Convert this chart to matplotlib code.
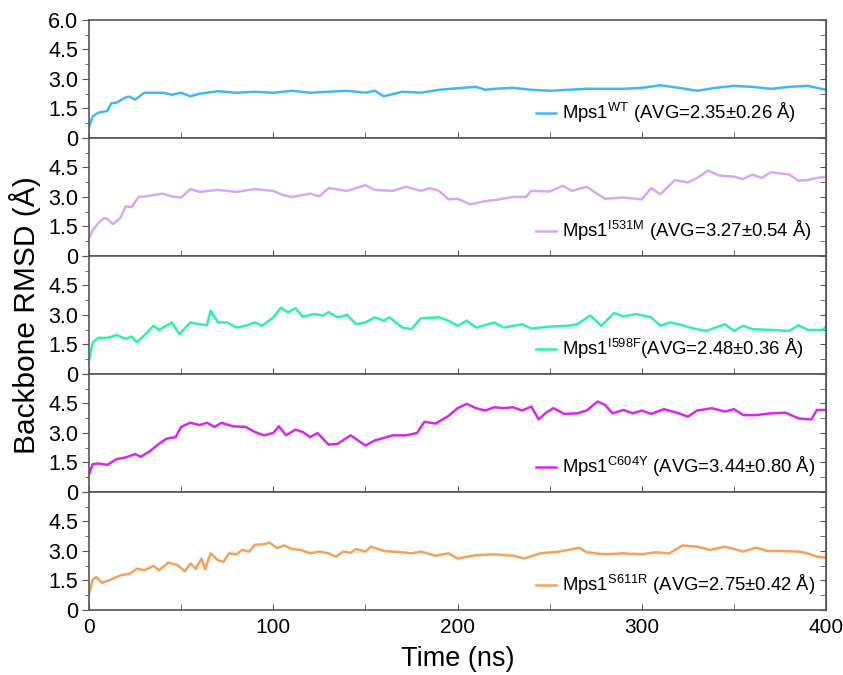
import matplotlib
matplotlib.use("Agg")
import matplotlib.pyplot as plt
import numpy as np

plt.rcParams['font.family'] = ['Liberation Sans', 'DejaVu Sans']
plt.rcParams['mathtext.fontset'] = 'custom'
plt.rcParams['mathtext.rm'] = 'Liberation Sans'

# ---- data ----
t_wt = [0, 2, 5, 10, 12, 15, 20, 22, 25, 30, 40, 45, 50, 55, 60, 70, 80, 90, 100, 110, 120, 130, 140,
        150, 155, 160, 170, 180, 190, 200, 210, 215, 220, 230, 240, 250, 260, 270, 280, 290, 300, 310,
        320, 330, 340, 350, 360, 370, 380, 390, 400]
v_wt = [0.55, 1.1, 1.28, 1.38, 1.76, 1.8, 2.07, 2.1, 1.95, 2.3, 2.3, 2.2, 2.3, 2.12, 2.25, 2.38, 2.3, 2.35,
        2.3, 2.4, 2.3, 2.35, 2.4, 2.3, 2.4, 2.12, 2.35, 2.3, 2.45, 2.53, 2.6, 2.45, 2.5, 2.55, 2.45, 2.4,
        2.45, 2.5, 2.5, 2.5, 2.55, 2.68, 2.55, 2.4, 2.55, 2.65, 2.6, 2.5, 2.6, 2.65, 2.45]

t_i531m = [0, 2, 5, 8, 10, 13, 17, 20, 23, 27, 30, 40, 45, 50, 55, 60, 70, 80, 90, 100, 105, 110, 120,
           125, 130, 140, 150, 155, 165, 172, 180, 185, 190, 195, 200, 207, 215, 220, 230, 237, 240, 250,
           257, 262, 270, 280, 290, 300, 305, 310, 318, 325, 330, 336, 342, 350, 355, 360, 365, 370, 380,
           385, 390, 395, 400]
v_i531m = [0.9, 1.3, 1.67, 1.93, 1.88, 1.62, 1.93, 2.53, 2.48, 3.0, 3.02, 3.17, 3.03, 2.97, 3.4, 3.26,
           3.36, 3.26, 3.4, 3.31, 3.1, 3.0, 3.17, 3.03, 3.45, 3.31, 3.6, 3.36, 3.31, 3.52, 3.31, 3.45,
           3.31, 2.88, 2.91, 2.62, 2.79, 2.84, 3.0, 3.0, 3.31, 3.28, 3.57, 3.31, 3.52, 2.91, 2.97, 2.88,
           3.45, 3.14, 3.86, 3.74, 3.97, 4.34, 4.09, 4.03, 3.91, 4.14, 3.97, 4.26, 4.14, 3.83, 3.86,
           3.97, 4.03]

t_i598f = [0, 2, 5, 10, 15, 20, 23, 26, 30, 35, 38, 45, 49, 55, 60, 64, 66, 70, 75, 80, 85, 90, 94, 100,
           104, 108, 112, 116, 122, 127, 130, 135, 140, 145, 150, 155, 160, 163, 170, 175, 180, 190, 195,
           200, 205, 210, 220, 225, 235, 240, 250, 260, 265, 272, 278, 285, 290, 297, 305, 310, 315, 320,
           328, 335, 345, 350, 355, 360, 370, 380, 385, 390, 398, 400]
v_i598f = [0.72, 1.59, 1.84, 1.84, 1.98, 1.79, 1.9, 1.62, 1.97, 2.45, 2.24, 2.62, 2.02, 2.62, 2.53, 2.48,
           3.22, 2.62, 2.62, 2.36, 2.45, 2.62, 2.45, 2.88, 3.36, 3.14, 3.34, 2.91, 3.05, 2.97, 3.14, 2.88,
           3.0, 2.53, 2.62, 2.88, 2.71, 2.88, 2.36, 2.28, 2.83, 2.88, 2.71, 2.45, 2.71, 2.36, 2.62, 2.36,
           2.53, 2.31, 2.41, 2.45, 2.53, 2.97, 2.45, 3.1, 2.93, 3.05, 2.88, 2.45, 2.62, 2.53, 2.31, 2.19,
           2.53, 2.19, 2.45, 2.28, 2.24, 2.19, 2.48, 2.24, 2.24, 2.41]

t_c604y = [0, 2, 5, 10, 15, 20, 25, 28, 33, 38, 42, 47, 50, 55, 60, 64, 68, 72, 78, 85, 90, 95, 100, 103,
           107, 112, 116, 120, 124, 130, 135, 142, 150, 155, 165, 172, 178, 182, 188, 195, 200, 205, 210,
           215, 220, 225, 230, 235, 240, 244, 248, 252, 258, 265, 270, 276, 280, 284, 290, 295, 300, 305,
           312, 320, 325, 330, 338, 345, 350, 355, 362, 370, 378, 385, 392, 395, 400]
v_c604y = [0.9, 1.41, 1.45, 1.38, 1.67, 1.76, 1.93, 1.79, 2.07, 2.45, 2.71, 2.79, 3.31, 3.52, 3.4, 3.52,
           3.31, 3.52, 3.34, 3.31, 3.05, 2.88, 3.0, 3.34, 2.88, 3.17, 3.05, 2.79, 3.0, 2.41, 2.45, 2.88,
           2.36, 2.62, 2.88, 2.88, 3.0, 3.57, 3.48, 3.86, 4.26, 4.48, 4.26, 4.14, 4.31, 4.26, 4.31, 4.14,
           4.34, 3.69, 4.03, 4.26, 3.97, 4.0, 4.14, 4.6, 4.43, 4.0, 4.17, 4.0, 4.14, 3.97, 4.21, 4.0,
           3.83, 4.14, 4.26, 4.09, 4.21, 3.91, 3.91, 4.0, 4.03, 3.74, 3.69, 4.17, 4.17]

t_s611r = [0, 2, 4, 7, 12, 17, 22, 26, 30, 35, 38, 43, 48, 52, 55, 58, 61, 63, 66, 70, 73, 76, 80, 83, 87,
           90, 95, 98, 102, 106, 110, 115, 120, 125, 130, 134, 138, 142, 145, 150, 153, 160, 170, 175,
           180, 188, 195, 200, 210, 220, 230, 236, 245, 255, 260, 266, 270, 280, 290, 300, 307, 315, 322,
           330, 337, 345, 352, 355, 362, 368, 375, 385, 390, 395, 400]
v_s611r = [0.81, 1.55, 1.67, 1.38, 1.55, 1.76, 1.84, 2.1, 2.02, 2.24, 2.02, 2.41, 2.28, 1.97, 2.36, 2.1,
           2.62, 2.07, 2.88, 2.53, 2.45, 2.88, 2.83, 3.05, 2.97, 3.31, 3.34, 3.43, 3.14, 3.28, 3.1, 3.05,
           2.88, 2.97, 2.88, 2.71, 2.97, 2.91, 3.1, 2.97, 3.22, 3.0, 2.93, 2.88, 2.97, 2.76, 2.88, 2.62,
           2.79, 2.83, 2.76, 2.62, 2.88, 2.97, 3.05, 3.17, 2.93, 2.83, 2.88, 2.83, 2.93, 2.88, 3.28, 3.22,
           3.05, 3.22, 3.05, 2.97, 3.17, 3.0, 3.0, 2.97, 2.88, 2.71, 2.66]

series = [
    (t_wt, v_wt, '#3fb8f6', r'Mps1$^{\mathregular{WT}}$ (AVG=2.35±0.26 Å)'),
    (t_i531m, v_i531m, '#d4a8f6', r'Mps1$^{\mathregular{I531M}}$ (AVG=3.27±0.54 Å)'),
    (t_i598f, v_i598f, '#2ef2a6', r'Mps1$^{\mathregular{I598F}}$(AVG=2.48±0.36 Å)'),
    (t_c604y, v_c604y, '#d826ee', r'Mps1$^{\mathregular{C604Y}}$ (AVG=3.44±0.80 Å)'),
    (t_s611r, v_s611r, '#f6a05c', r'Mps1$^{\mathregular{S611R}}$ (AVG=2.75±0.42 Å)'),
]

y_ticks = [0, 1.5, 3.0, 4.5, 6.0]
y_labels_top = ['0', '1.5', '3.0', '4.5', '6.0']
y_labels = ['0', '1.5', '3.0', '4.5', '']
x_ticks = [0, 100, 200, 300, 400]
x_labels = ['0', '100', '200', '300', '400']

fig = plt.figure(figsize=(8.43, 6.75), dpi=100)
left, right, bottom, top = 0.1056, 0.98, 0.0963, 0.9704
h = (top - bottom) / 5
spine_col = '#555555'
for i, (t, v, c, lab) in enumerate(series):
    ax = fig.add_axes([left, top - (i + 1) * h, right - left, h])
    ax.plot(t, v, color=c, lw=1.8, label=lab)
    ax.set_xlim(0, 400)
    ax.set_ylim(0, 6)
    ax.set_yticks(y_ticks)
    ax.set_yticklabels(y_labels_top if i == 0 else y_labels)
    ax.set_yticks(np.arange(0, 6.01, 0.75), minor=True)
    ax.set_xticks(x_ticks)
    ax.set_xticks(np.arange(0, 401, 50), minor=True)
    if i == 4:
        ax.set_xticklabels(x_labels)
    else:
        ax.set_xticklabels([])
    for s in ax.spines.values():
        s.set_color(spine_col)
        s.set_linewidth(1.2)
    ax.tick_params(axis='y', which='both', direction='out', left=True, right=False,
                   color=spine_col, labelsize=15.5, pad=3)
    ax.tick_params(axis='y', which='major', length=5)
    ax.tick_params(axis='y', which='minor', length=3)
    ax.tick_params(axis='x', which='both', direction='in', bottom=True, top=False,
                   color=spine_col, labelsize=15, length=4, pad=6)
    sec = ax.secondary_yaxis('right')
    sec.set_yticks(y_ticks)
    sec.set_yticks(np.arange(0, 6.01, 0.75), minor=True)
    sec.set_yticklabels([])
    sec.tick_params(axis='y', which='both', direction='in', color=spine_col, length=4)
    sec.spines['right'].set_color(spine_col)
    ax.legend(loc='center left', bbox_to_anchor=(0.606, 0.21), frameon=False, fontsize=13.3,
              handlelength=1.1, handletextpad=0.3, borderaxespad=0, borderpad=0)

fig.text(0.03, (top + bottom) / 2, 'Backbone RMSD (Å)', rotation=90, va='center', ha='center',
         fontsize=21.5)
fig.text((left + right) / 2, 0.005, 'Time (ns)', ha='center', va='bottom', fontsize=19.5)

fig.savefig('out.png', dpi=100)
